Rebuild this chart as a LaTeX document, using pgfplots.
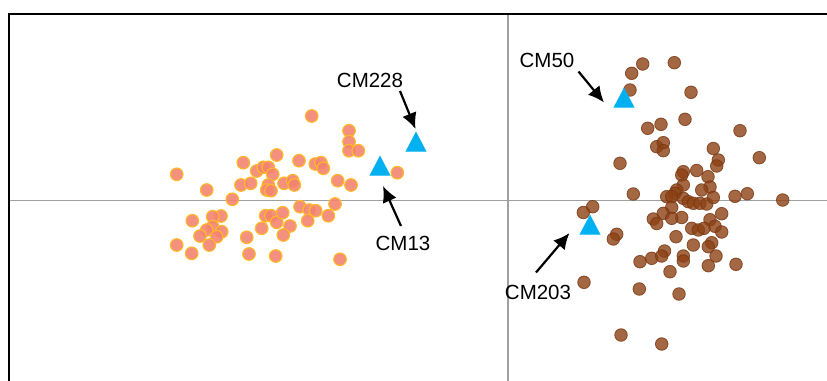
\documentclass[border=0pt]{standalone}
\usepackage{pgfplots}
\pgfplotsset{compat=1.18}
\usepackage{fontspec}
\setmainfont{Liberation Sans}
\usetikzlibrary{arrows.meta}
\definecolor{orfill}{RGB}{242,132,112}
\definecolor{oredge}{RGB}{255,185,40}
\definecolor{brbase}{RGB}{140,65,20}
\definecolor{brblue}{RGB}{0,176,240}
\definecolor{gridgray}{RGB}{160,160,160}
\begin{document}
\begin{tikzpicture}
\begin{axis}[
  scale only axis, width=827bp, height=381bp,
  xmin=0, xmax=827, ymin=0, ymax=381, y dir=reverse,
  axis line style={draw=none}, ticks=none,
  clip=true,
]
% crosshair and borders
\draw[gridgray, line width=1.3bp] (axis cs:508,14) -- (axis cs:508,381);
\draw[gridgray, line width=1.3bp] (axis cs:9,200.5) -- (axis cs:827,200.5);
\draw[black, line width=2bp] (axis cs:9,381) -- (axis cs:9,14.5) -- (axis cs:827,14.5);

\addplot[only marks, mark=*, mark size=6.3bp,
  mark options={fill=orfill, draw=oredge, line width=1.1bp, fill opacity=0.9}]
coordinates {
(311.7,116) (349,130.7) (349,141.7) (349,150.7) (358.3,150.7) (276.7,155)
(243.3,162.7) (299,160.7) (315.3,164) (321,162.7) (323.3,168.3) (256.7,171)
(263.3,167.3) (268.3,167.3) (272.7,174.3) (176.7,174.3) (397.3,172.7)
(206.7,190) (241,185) (250.7,183.3) (268.3,185) (266.7,190) (271,190.7)
(284,183.3) (292.7,180.7) (294.3,185) (337.7,180.7) (351,185) (232.3,199.3)
(335,204) (300,206.7) (309.3,210) (315.7,210.7) (328.3,215.7) (307.7,220.7)
(265.7,215.7) (271,215.7) (276.7,222.3) (282.7,212.7) (290,226) (261.7,228.3)
(283.3,235) (221,216) (212.7,216.7) (192.3,220.7) (212.7,226.7) (206.7,230)
(221.7,231.7) (216.7,236.7) (200,236) (209.3,245) (176.7,245) (191.7,253.3)
(246.7,237.3) (249,254) (275.7,256) (340,259.3)
};

\addplot[only marks, mark=*, mark size=6.3bp,
  mark options={fill=brbase, draw=brbase!85!black, line width=0.8bp, opacity=0.8}]
coordinates {
(642.7,64) (674.3,62.7) (631.7,73.3) (630,90) (691,92.3) (685,119.3)
(647.7,128.3) (661,124.3) (740,130.7) (656.7,146.7) (663.3,142.7) (663.3,150.7)
(713.3,148.5) (759.3,157.7) (718.3,160) (716.7,166) (620,163.3) (683.3,171.7)
(696.7,170.5) (681.7,175) (708,176.7) (683.3,185) (710,187) (701.7,190)
(676.7,190) (675,193.3) (633.3,194) (666.7,196.7) (671.7,196.7) (683.3,198.3)
(688.3,201.7) (693.3,203.3) (700,203.3) (706.7,204) (713.3,197.5) (735,196.3)
(747.3,193.7) (782.7,200) (592.7,206.7) (583.3,212.5) (671.7,207.5)
(663.3,213.3) (653.3,219) (656.7,223.5) (681.7,217.5) (671.7,218.3)
(721.7,213.7) (710,219.7) (715,226.3) (721.7,232) (691.7,228.3) (698.3,230)
(704,228.3) (616.7,234.3) (613.3,239) (676,236.7) (693.3,245) (711.7,242.7)
(708.3,246.7) (664.5,251) (716,256) (736,264.3) (708.3,265.7) (640,261.7)
(651.7,258.3) (661.7,256) (683.3,256) (683.3,261) (670,271.7) (584,282.3)
(639.3,289) (679,294) (621,335) (661.7,344)
};

\addplot[brblue, only marks, mark=triangle*, mark size=12bp,
  mark options={fill=brblue, draw=brblue, line width=0.1bp, yscale=1.1}]
coordinates {(380,169) (416,145) (624,101) (590,228)};

\draw[-{Latex[length=16bp,width=15bp]}, line width=2.2bp] (axis cs:400,91) -- (axis cs:415.5,129);
\draw[-{Latex[length=16bp,width=15bp]}, line width=2.2bp] (axis cs:401,226) -- (axis cs:383,186);
\draw[-{Latex[length=16bp,width=15bp]}, line width=2.2bp] (axis cs:578.5,71.5) -- (axis cs:604,102.5);
\draw[-{Latex[length=16bp,width=15bp]}, line width=2.2bp] (axis cs:536,272.5) -- (axis cs:569.5,233);

\node[font=\fontsize{20.5bp}{24bp}\selectfont, inner sep=0pt] at (axis cs:370,80) {CM228};
\node[font=\fontsize{20.5bp}{24bp}\selectfont, inner sep=0pt] at (axis cs:403,243) {CM13};
\node[font=\fontsize{20.5bp}{24bp}\selectfont, inner sep=0pt] at (axis cs:547,60) {CM50};
\node[font=\fontsize{20.5bp}{24bp}\selectfont, inner sep=0pt] at (axis cs:538,292) {CM203};
\end{axis}
\end{tikzpicture}
\end{document}
